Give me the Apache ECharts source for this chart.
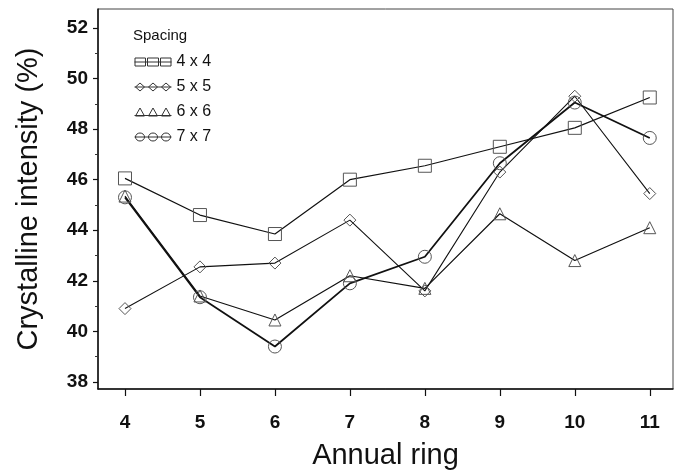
<!DOCTYPE html>
<html>
<head>
<meta charset="utf-8">
<script src="https://cdn.jsdelivr.net/npm/echarts@6/dist/echarts.min.js"></script>
<style>
  html, body { margin: 0; padding: 0; background: #fff; }
  #demo { width: 677px; height: 474px; }
</style>
</head>
<body>
<div id="demo"></div>
<script>
// annual rings on the x axis
var rings = [4, 5, 6, 7, 8, 9, 10, 11];
// crystalline intensity (%) for each spacing
var s4x4 = [46.05, 44.6, 43.85, 46.0, 46.55, 47.3, 48.05, 49.25];
var s5x5 = [40.9, 42.55, 42.7, 44.4, 41.6, 46.3, 49.3, 45.45];
var s6x6 = [45.35, 41.4, 40.45, 42.2, 41.7, 44.65, 42.8, 44.1];
var s7x7 = [45.3, 41.35, 39.4, 41.9, 42.95, 46.65, 49.05, 47.65];
var spacingNames = ['4 x 4', '5 x 5', '6 x 6', '7 x 7'];
// tick labels
var xTicks = [4, 5, 6, 7, 8, 9, 10, 11];
var yTicks = [38, 40, 42, 44, 46, 48, 50, 52];
var yMinorTicks = [39, 41, 43, 45, 47, 49, 51];

window.onload = function() {
    var font = 'Liberation Sans, Arial, Helvetica, sans-serif';

    function pairs(vals) {
        return rings.map(function(r, i) { return [r, vals[i]]; });
    }

    // legend icons: a line through three markers
    var icons = [
        'path://M0,5L37,5M0.5,1L11,1L11,9L0.5,9ZM13,1L24,1L24,9L13,9ZM26,1L36.5,1L36.5,9L26,9Z',
        'path://M0,5L37,5M5.5,1L10,5L5.5,9L1,5ZM18.5,1L23,5L18.5,9L14,5ZM31.5,1L36,5L31.5,9L27,5Z',
        'path://M0,8.5L37,8.5M1,9L5.5,1L10,9ZM14,9L18.5,1L23,9ZM27,9L31.5,1L36,9Z',
        'path://M0,5L37,5M1,5A4.5,4 0 1 1 10,5A4.5,4 0 1 1 1,5ZM14,5A4.5,4 0 1 1 23,5A4.5,4 0 1 1 14,5ZM27,5A4.5,4 0 1 1 36,5A4.5,4 0 1 1 27,5Z'
    ];
    var symbols = ['rect', 'diamond', 'triangle', 'circle'];
    var sizes = [13, 12, 12, 13];
    var values = [s4x4, s5x5, s6x6, s7x7];
    var widths = [1.2, 1.1, 1.2, 1.8];

    var series = values.map(function(v, i) {
        return {
            name: spacingNames[i],
            type: 'line',
            data: pairs(v),
            symbol: symbols[i],
            symbolSize: sizes[i],
            showAllSymbol: true,
            lineStyle: { color: '#111', width: widths[i] },
            itemStyle: { color: 'rgba(255,255,255,0)', borderColor: '#555', borderWidth: 1 },
            emphasis: { disabled: true },
            animation: false
        };
    });

    var option = {
        backgroundColor: '#fff',
        title: {
            text: 'Spacing',
            left: 128,
            top: 23,
            textStyle: { fontFamily: font, fontSize: 15, fontWeight: 'normal', color: '#111' }
        },
        legend: {
            orient: 'vertical',
            left: 129,
            top: 49,
            itemWidth: 37,
            itemHeight: 10,
            itemGap: 9,
            data: spacingNames.map(function(n, i) { return { name: n, icon: icons[i] }; }),
            itemStyle: { color: 'rgba(255,255,255,0)', borderColor: '#333', borderWidth: 1 },
            textStyle: { fontFamily: font, fontSize: 16, color: '#111' },
            selectedMode: false
        },
        grid: {
            left: 98,
            right: 4,
            top: 9,
            bottom: 85,
            outerBoundsMode: 'none',
            containLabel: false,
            show: true,
            borderColor: '#444',
            borderWidth: 1
        },
        xAxis: {
            type: 'value',
            min: 3.64,
            max: 11.31,
            name: 'Annual ring',
            nameLocation: 'middle',
            nameGap: 52,
            nameTextStyle: { fontFamily: font, fontSize: 29, color: '#111' },
            axisLine: { lineStyle: { color: '#111', width: 1.5 } },
            axisTick: { customValues: xTicks, length: 7, lineStyle: { color: '#111', width: 1.2 } },
            axisLabel: {
                customValues: xTicks,
                margin: 24,
                fontFamily: font,
                fontSize: 19,
                fontWeight: 'bold',
                color: '#111'
            },
            splitLine: { show: false }
        },
        yAxis: [{
            type: 'value',
            min: 37.72,
            max: 52.75,
            name: 'Crystalline intensity (%)',
            nameLocation: 'middle',
            nameGap: 55,
            nameTextStyle: { fontFamily: font, fontSize: 29, color: '#111' },
            axisLine: { show: true, lineStyle: { color: '#111', width: 1.5 } },
            axisTick: { show: true, customValues: yTicks, length: 5, lineStyle: { color: '#111', width: 1.2 } },
            axisLabel: {
                customValues: yTicks,
                margin: 10,
                fontFamily: font,
                fontSize: 19,
                fontWeight: 'bold',
                color: '#111'
            },
            splitLine: { show: false }
        }, {
            // minor ticks at the odd values
            type: 'value',
            position: 'left',
            min: 37.72,
            max: 52.75,
            axisLine: { show: false },
            axisTick: { show: true, customValues: yMinorTicks, length: 3, lineStyle: { color: '#333', width: 1 } },
            axisLabel: { show: false },
            splitLine: { show: false }
        }],
        series: series
    };

    var myCharts = echarts.init(document.getElementById('demo'));
    myCharts.setOption(option);
};
</script>
</body>
</html>
